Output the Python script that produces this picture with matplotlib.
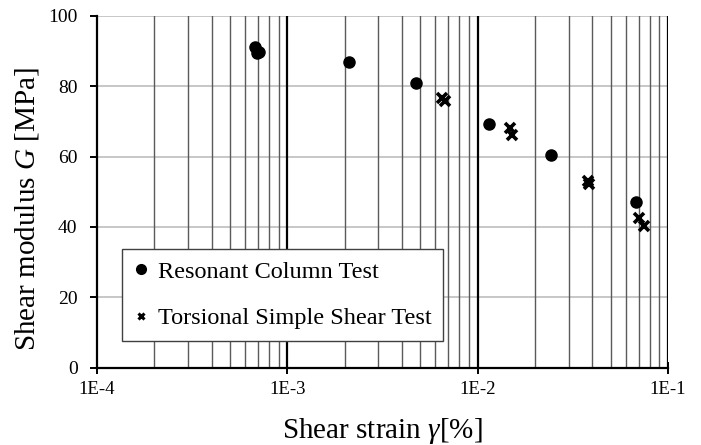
import matplotlib
matplotlib.use("Agg")
import matplotlib.pyplot as plt
from matplotlib.ticker import FixedLocator, NullFormatter
from matplotlib.lines import Line2D

plt.rcParams["font.family"] = ["Liberation Serif", "DejaVu Serif"]
plt.rcParams["mathtext.fontset"] = "custom"
plt.rcParams["mathtext.rm"] = "Liberation Serif"
plt.rcParams["mathtext.it"] = "Liberation Serif:italic"

# Resonant column test
rc_strain = [6.8e-4, 6.9e-4, 7.1e-4, 2.12e-3, 4.73e-3, 1.14e-2, 2.43e-2, 6.75e-2]
rc_modulus = [91.2, 89.5, 89.8, 86.8, 81.0, 69.1, 60.5, 47.0]

# Torsional simple shear test
tss_strain = [6.5e-3, 6.7e-3, 1.47e-2, 1.52e-2, 3.80e-2, 3.85e-2, 7.05e-2, 7.48e-2]
tss_modulus = [76.7, 75.8, 68.0, 66.0, 53.0, 52.3, 42.6, 40.2]

x_ticks = [1e-4, 1e-3, 1e-2, 1e-1]
x_tick_labels = ["1E-4", "1E-3", "1E-2", "1E-1"]
y_ticks = [0, 20, 40, 60, 80, 100]

fig = plt.figure(figsize=(7.01, 4.45), dpi=100)
ax = fig.add_axes([0.1384, 0.1737, 0.8146, 0.7910])

ax.set_xscale("log")
ax.set_xlim(1e-4, 1e-1)
ax.set_ylim(0, 100)

# grid: light horizontals, dark minor verticals, black decade lines
for y in y_ticks[1:]:
    ax.axhline(y, color="#bdbdbd", lw=1.2, zorder=0)
minor_x = [m * 10.0 ** e for e in (-4, -3, -2) for m in range(2, 10)]
for x in minor_x:
    ax.axvline(x, color="#5a5a5a", lw=1.0, zorder=0)
for x in x_ticks[1:]:
    ax.axvline(x, color="black", lw=1.6, zorder=0)

ax.plot(rc_strain, rc_modulus, "o", color="black", ms=8, mec="black",
        zorder=3, clip_on=False)
ax.plot(tss_strain, tss_modulus, "x", color="black", ms=6.5, mew=2.6,
        zorder=3, clip_on=False)

ax.set_xticks(x_ticks)
ax.set_xticklabels(x_tick_labels)
ax.xaxis.set_minor_locator(FixedLocator(minor_x))
ax.xaxis.set_minor_formatter(NullFormatter())
ax.tick_params(axis="x", which="minor", length=0)
ax.tick_params(axis="x", which="major", direction="inout", length=9,
               width=1.4, labelsize=13.5, pad=5)
ax.set_yticks(y_ticks)
ax.tick_params(axis="y", direction="out", length=5, width=1.4,
               labelsize=14, pad=9)

for side in ("top", "right"):
    ax.spines[side].set_visible(False)
for side in ("left", "bottom"):
    ax.spines[side].set_linewidth(1.6)
    ax.spines[side].set_color("black")

ax.set_xlabel(r"Shear strain $\gamma$[%]", fontsize=21, labelpad=13)
ax.set_ylabel(r"Shear modulus $G$ [MPa]", fontsize=21)
ax.yaxis.set_label_coords(-0.098, 0.451)

handles = [
    Line2D([0], [0], ls="none", marker="o", color="black", ms=7,
           label="Resonant Column Test"),
    Line2D([0], [0], ls="none", marker="x", color="black", ms=5, mew=2.2,
           label="Torsional Simple Shear Test"),
]
leg = ax.legend(handles=handles, loc="lower left",
                bbox_to_anchor=(0.0438, 0.076), fontsize=17.5,
                frameon=True, fancybox=False, framealpha=1,
                edgecolor="#404040", handlelength=0.6, handletextpad=0.4,
                labelspacing=1.0, borderpad=0.48, borderaxespad=0)
leg.get_frame().set_linewidth(1.0)
leg.set_zorder(5)

fig.savefig("out.png", dpi=100)
